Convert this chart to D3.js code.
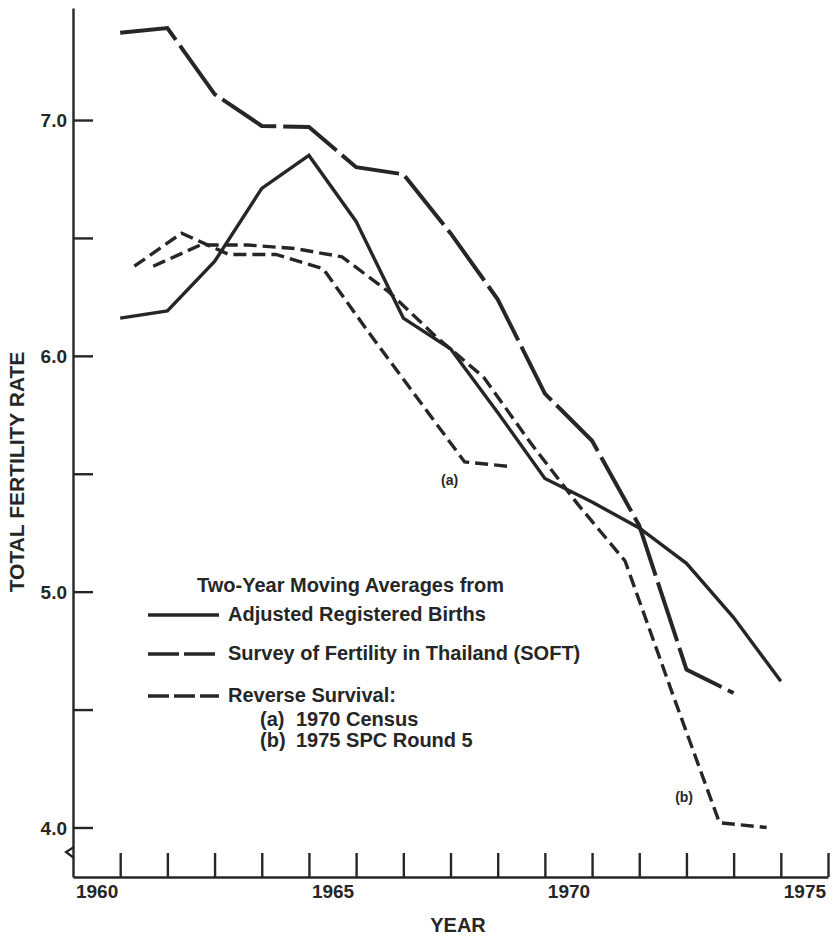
<!DOCTYPE html>
<html>
<head>
<meta charset="utf-8">
<script src="https://cdn.jsdelivr.net/npm/d3@7"></script>
<style>
  body { margin: 0; background: #fff; }
  text { font-family: "Liberation Sans", Arial, sans-serif; fill: #262626; }
</style>
</head>
<body>
<div class="chart"></div>
<script>
// two-year moving averages, TFR
var registeredYears = [1961, 1962, 1963, 1964, 1965, 1966, 1967, 1968, 1969, 1970, 1971, 1972, 1973, 1974, 1975];
var registeredTFR = [6.16, 6.19, 6.40, 6.71, 6.85, 6.57, 6.16, 6.03, 5.76, 5.48, 5.38, 5.27, 5.12, 4.89, 4.62];

var softYears = [1961, 1962, 1963, 1964, 1965, 1966, 1967, 1968, 1969, 1970, 1971, 1972, 1973, 1974];
var softTFR = [7.37, 7.39, 7.11, 6.975, 6.97, 6.80, 6.77, 6.52, 6.24, 5.84, 5.64, 5.28, 4.67, 4.57];

// reverse survival (a) 1970 census
var censusYears = [1961.3, 1962.3, 1963.3, 1964.3, 1965.3, 1966.3, 1967.3, 1968.3, 1969.3];
var censusTFR = [6.38, 6.52, 6.43, 6.43, 6.37, 6.09, 5.82, 5.55, 5.53];

// reverse survival (b) 1975 SPC round 5
var spcYears = [1961.7, 1962.7, 1963.7, 1964.7, 1965.7, 1966.7, 1967.7, 1968.7, 1969.7, 1970.7, 1971.7, 1972.7, 1973.7, 1974.7];
var spcTFR = [6.38, 6.47, 6.47, 6.455, 6.42, 6.27, 6.08, 5.91, 5.63, 5.37, 5.13, 4.57, 4.02, 4.00];

var yTicks = [4, 4.5, 5, 5.5, 6, 6.5, 7];
var yearTicks = d3.range(1961, 1977);
var yearLabels = [1960, 1965, 1970, 1975];

var width = 833, height = 937;
var ink = "#262626";

var svg = d3.select(".chart")
    .append("svg")
    .attr("width", width)
    .attr("height", height);

var x = d3.scaleLinear().domain([1960, 1976]).range([73, 828]);
var y = d3.scaleLinear().domain([3.79, 7.475]).range([877, 8]);

// y axis: ticks point into the plot, labels only on whole numbers
var yAxis = svg.append("g")
    .attr("transform", "translate(" + x(1960) + ",0)")
    .call(d3.axisLeft(y)
        .tickValues(yTicks)
        .tickSizeInner(-20)
        .tickSizeOuter(0)
        .tickPadding(6)
        .tickFormat(function (d) { return d % 1 === 0 ? d3.format(".1f")(d) : ""; }));
yAxis.selectAll("text").style("font-size", "19px").style("font-weight", "bold").attr("dy", "0.36em");

// x axis: year boundaries
var xAxis = svg.append("g")
    .attr("transform", "translate(0," + y.range()[0] + ")")
    .call(d3.axisBottom(x)
        .tickValues(yearTicks)
        .tickSizeInner(-24)
        .tickSizeOuter(0)
        .tickFormat(""));

// year labels sit in the middle of each year
var xLab = svg.append("g")
    .attr("transform", "translate(0," + y.range()[0] + ")")
    .call(d3.axisBottom(x)
        .tickValues(yearLabels.map(function (d) { return d + 0.5; }))
        .tickSize(0)
        .tickPadding(8)
        .tickFormat(function (d) { return Math.floor(d); }));
xLab.select(".domain").remove();
xLab.selectAll("text").style("font-size", "19px").style("font-weight", "bold");

svg.selectAll(".domain, .tick line")
    .attr("stroke", ink)
    .attr("stroke-width", 2.4);

// axis break mark
svg.append("path")
    .attr("d", "M" + (x(1960) + 1) + ",847 L" + (x(1960) - 7) + ",852 L" + (x(1960) + 1) + ",858")
    .attr("fill", "none")
    .attr("stroke", ink)
    .attr("stroke-width", 2.2);

// axis titles
svg.append("text")
    .attr("x", 458)
    .attr("y", 932)
    .attr("text-anchor", "middle")
    .style("font-size", "20px")
    .style("font-weight", "bold")
    .text("YEAR");

svg.append("text")
    .attr("transform", "translate(24,472) rotate(-90)")
    .attr("text-anchor", "middle")
    .style("font-size", "21px")
    .style("font-weight", "bold")
    .text("TOTAL FERTILITY RATE");

// lines
var line = d3.line()
    .x(function (d) { return x(d[0]); })
    .y(function (d) { return y(d[1]); });

var series = [
    { years: registeredYears, vals: registeredTFR, dash: null, w: 3.4 },
    { years: softYears, vals: softTFR, dash: "62,7", w: 4 },
    { years: censusYears, vals: censusTFR, dash: "13,6", w: 3.4 },
    { years: spcYears, vals: spcTFR, dash: "13,6", w: 3.4 }
];

var path_g = svg.append("g").attr("class", "path-g");
series.forEach(function (s) {
    path_g.append("path")
        .attr("d", line(d3.zip(s.years, s.vals)))
        .attr("fill", "none")
        .attr("stroke", ink)
        .attr("stroke-width", s.w)
        .attr("stroke-dasharray", s.dash);
});

// (a) / (b) notes
svg.append("text")
    .attr("x", x(1967.98)).attr("y", y(5.47) + 4)
    .attr("text-anchor", "middle")
    .style("font-size", "14px").style("font-weight", "bold")
    .text("(a)");
svg.append("text")
    .attr("x", x(1972.95)).attr("y", y(4.06) - 11)
    .attr("text-anchor", "middle")
    .style("font-size", "14px").style("font-weight", "bold")
    .text("(b)");

// legend
var leg = svg.append("g").style("font-size", "20px").style("font-weight", "bold");
leg.append("text").attr("x", 197).attr("y", 592).text("Two-Year Moving Averages from");

var legRows = [
    { y: 615, dash: null, label: "Adjusted Registered Births", ty: 621 },
    { y: 654, dash: "31,5", label: "Survey of Fertility in Thailand (SOFT)", ty: 660 },
    { y: 696, dash: "21,5", label: "Reverse Survival:", ty: 702 }
];
legRows.forEach(function (r) {
    leg.append("line")
        .attr("x1", 148).attr("x2", 219)
        .attr("y1", r.y).attr("y2", r.y)
        .attr("stroke", ink)
        .attr("stroke-width", 3.6)
        .attr("stroke-dasharray", r.dash);
    leg.append("text").attr("x", 228).attr("y", r.ty).text(r.label);
});
leg.append("text").attr("x", 260).attr("y", 726).text("(a)");
leg.append("text").attr("x", 296).attr("y", 726).text("1970 Census");
leg.append("text").attr("x", 260).attr("y", 747).text("(b)");
leg.append("text").attr("x", 296).attr("y", 747).text("1975 SPC Round 5");
</script>
</body>
</html>
